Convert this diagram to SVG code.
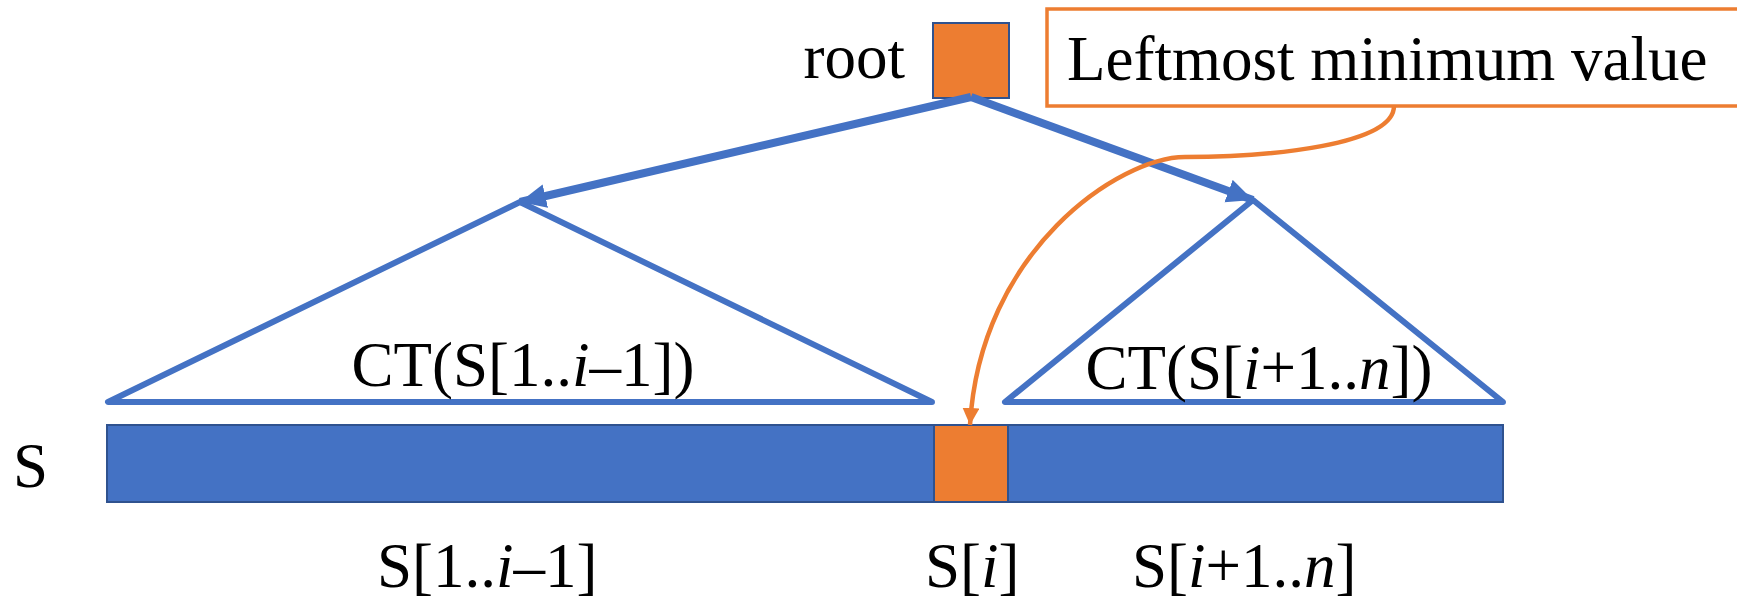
<svg xmlns="http://www.w3.org/2000/svg" width="1737" height="600" viewBox="0 0 1737 600">
  <style>
    .lbl { font-family: "Liberation Serif", "Times New Roman", serif; font-size: 63px; fill: #000; }
    .it { font-style: italic; }
    .tri { fill: #fff; stroke: #4472C4; stroke-width: 6; stroke-linejoin: round; }
    .cell-blue { fill: #4472C4; stroke: #2F528F; stroke-width: 2; }
    .cell-orange { fill: #ED7D31; stroke: #2F528F; stroke-width: 2; }
    .edge { fill: none; stroke: #4472C4; stroke-width: 8; }
    .callout { fill: none; stroke: #ED7D31; stroke-width: 4.5; }
  </style>
  <defs>
    <marker id="arrowBlue" markerUnits="userSpaceOnUse" markerWidth="28" markerHeight="26" refX="26" refY="12" orient="auto">
      <path d="M0,0 L26,12 L0,24 Z" fill="#4472C4"/>
    </marker>
    <marker id="arrowOrange" markerUnits="userSpaceOnUse" markerWidth="19" markerHeight="18" refX="17" refY="8.5" orient="auto">
      <path d="M0,0 L17,8.5 L0,17 Z" fill="#ED7D31"/>
    </marker>
  </defs>

  <!-- left subtree -->
  <g id="left-subtree">
    <polygon class="tri" points="520,202 108,402 932,402"/>
    <text class="lbl" x="523" y="386" text-anchor="middle">CT(S[1..<tspan class="it">i</tspan>–1])</text>
  </g>

  <!-- right subtree -->
  <g id="right-subtree">
    <polygon class="tri" points="1253,200 1005,402 1503,402"/>
    <text class="lbl" x="1259" y="389" text-anchor="middle">CT(S[<tspan class="it">i</tspan>+1..<tspan class="it">n</tspan>])</text>
  </g>

  <!-- root node -->
  <g id="root">
    <rect class="cell-orange" x="933" y="23" width="76" height="75"/>
    <text class="lbl" x="905" y="78" text-anchor="end">root</text>
  </g>

  <!-- callout box -->
  <g id="callout">
    <rect x="1047" y="9" width="700" height="97" fill="#fff" stroke="#ED7D31" stroke-width="3.5"/>
    <text class="lbl" x="1067" y="80">Leftmost minimum value</text>
  </g>

  <!-- string S -->
  <g id="string-s">
    <text class="lbl" x="13" y="487">S</text>
    <rect class="cell-blue" x="107" y="425" width="1396" height="77"/>
    <rect class="cell-orange" x="934" y="425" width="74" height="77"/>
    <text class="lbl" x="377" y="587">S[1..<tspan class="it">i</tspan>–1]</text>
    <text class="lbl" x="925" y="587">S[<tspan class="it">i</tspan>]</text>
    <text class="lbl" x="1132" y="587">S[<tspan class="it">i</tspan>+1..<tspan class="it">n</tspan>]</text>
  </g>

  <!-- connectors -->
  <g id="connectors">
    <line class="edge" x1="971" y1="97" x2="520" y2="202" marker-end="url(#arrowBlue)"/>
    <line class="edge" x1="971" y1="97" x2="1253" y2="200" marker-end="url(#arrowBlue)"/>
    <path class="callout" d="M1394,106 C1394,145 1270,157 1185,157 C1120,157 980,250 970,425" marker-end="url(#arrowOrange)"/>
  </g>
</svg>
